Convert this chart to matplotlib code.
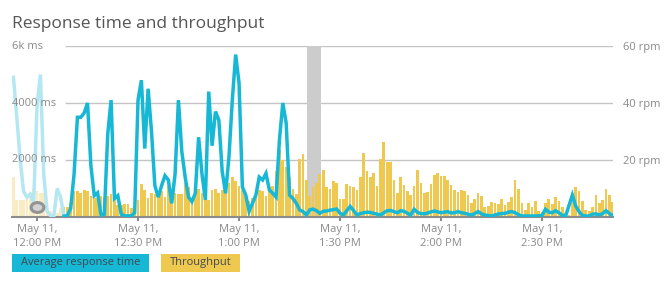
import matplotlib

matplotlib.use("Agg")
import matplotlib.pyplot as plt
import numpy as np
from matplotlib.patches import Rectangle
from matplotlib.path import Path
from matplotlib.transforms import Affine2D, blended_transform_factory

plt.rcParams["font.family"] = ["Open Sans", "DejaVu Sans"]

# minutes after May 11, 12:00 PM, one sample per minute
minutes = np.arange(-7, 172)

throughput_rpm = [
    14, 6, 6, 6, 7.7, 8.3, 10, 9, 8.3, 8.3, 5, 2, 1.3, 1.3, 3,
    3.6, 3.6, 5, 9, 9, 8.5, 9.5, 9, 7.5, 6.5, 6.5, 7.5, 7, 7.5, 8, 7.5,
    4.2, 4.2, 4.5, 4.5, 3, 2, 6, 11.5, 9.5, 6.5, 8.5, 8, 8.5, 9, 7, 11,
    6.5, 8.5, 8, 8, 11.8, 10.5, 6.5, 10, 10, 8.5, 7.5, 6, 9.5, 10, 8.5,
    9.5, 10, 12, 14, 12.5, 11, 9.5, 7, 5.5, 6.5, 8, 9.5, 9, 7.5, 10.5, 11,
    16, 23.5, 20, 17.5, 14, 10, 8, 20.5, 22, 13, 7.5, 10.5, 12, 15, 16.5, 10.5,
    10, 12.6, 11.8, 6.3, 6.3, 11.6, 10.9, 10.6, 9.5, 14,
    22.3, 16.3, 14, 15.3, 10.9, 20.2, 26.2, 19.2, 19.2, 13,
    8.5, 13.9, 11.2, 9.1, 7.7, 11, 16.5, 12, 8.5, 8.9,
    11.6, 14.7, 15.6, 14.4, 14.4, 13, 11.2, 9.5, 8.7, 9.5,
    9.2, 7.7, 5, 6.2, 8.5, 7.4, 3.6, 3.9, 5.4, 5,
    4.6, 6.3, 4.2, 5.4, 7.1, 13, 10, 4.8, 2.5, 4.8,
    3.4, 5.6, 2.2, 1.9, 5, 6.3, 4.6, 7.1, 5.7, 3.4,
    1.5, 0.7, 5.4, 10.6, 9.2, 5.7, 2.5, 2.1, 3.4, 7.7,
    5, 6, 9.8, 7.7, 5.4,
]

response_ms = [
    4900, 3500, 2000, 900, 700, 800, 500, 3900, 5000, 1500, 200, 50, 50, 1000, 700,
    30, 40, 300, 1500, 3500, 3500, 3650, 4000, 1800, 750, 850, 70, 100, 2900, 4100,
    650, 750, 100, 40, 40, 40, 150, 4100, 4800, 2400, 4500, 3000, 1100, 700, 1100,
    1450, 1300, 480, 1500, 4100, 2300, 1400, 700, 540, 830, 2800, 1500, 600, 4400,
    2500, 3700, 3400, 1600, 830, 2100, 4100, 5700, 4700, 1050, 770, 200, 480, 770,
    1400, 1300, 1530, 950, 830, 700, 2700, 4000, 3300, 770, 650, 480, 250, 190, 70,
    250,
    280, 220, 130, 200, 210, 240, 260, 280, 130, 70, 220, 370, 230, 70, 120, 150,
    170, 160, 130, 100, 70, 150, 220, 230, 190, 150, 220, 200, 130, 70,
    270, 160, 120, 110, 140, 180, 210, 180, 150, 170,
    190, 140, 150, 190, 150, 130, 100, 70, 120, 190,
    110, 70, 50, 35, 70, 105, 120, 130, 170, 190,
    150, 80, 35, 35, 35, 35, 35, 40, 60, 270,
    170, 150, 220, 150, 60, 35, 400, 770, 380, 190,
    50, 35, 35, 100, 110, 70, 120, 220, 120, 50,
]

fade_until = 8          # samples before this minute are outside the window
highlight = (80.2, 84.3)
event_minute, event_ms = 0, 360

tick_minutes = [0, 30, 60, 90, 120, 150]
tick_labels = ["May 11,\n12:00 PM", "May 11,\n12:30 PM", "May 11,\n1:00 PM",
               "May 11,\n1:30 PM", "May 11,\n2:00 PM", "May 11,\n2:30 PM"]
rpm_ticks = [20, 40, 60]
rpm_labels = ["20 rpm", "40 rpm", "60 rpm"]
ms_ticks = [2000, 4000, 6000]
ms_labels = ["2000 ms", "4000 ms", "6k ms"]

BLUE = "#17b7d6"
YELLOW = "#efc84f"
LABEL = "#8a8a8a"

thr = np.asarray(throughput_rpm, dtype=float)
rsp = np.asarray(response_ms, dtype=float)
faded = minutes < fade_until

W, H = 671, 284
fig = plt.figure(figsize=(W / 100, H / 100), dpi=100)
ax = fig.add_axes([12 / W, (H - 217) / H, (613 - 12) / W, (217 - 46) / H])
ax_ms = ax.twinx()

xlim = (-7.43, 171.07)
ax.set_xlim(*xlim)
ax.set_ylim(0, 60)
ax_ms.set_ylim(0, 6000)

# grid starts where the faded part ends
ax.hlines(rpm_ticks, fade_until + 0.3, xlim[1], color="#c4c4c4", lw=1, zorder=1)
ax.axvspan(*highlight, ymax=1, color="#cccccc", lw=0, zorder=1.5)

ax.bar(minutes[~faded], thr[~faded], width=0.8, color=YELLOW, lw=0, zorder=2)
ax.bar(minutes[faded], thr[faded], width=0.8, color="#faecc2", lw=0, zorder=2)

ax_ms.plot(minutes[minutes <= fade_until], rsp[minutes <= fade_until],
           color="#b5e7f2", lw=2.5, solid_joinstyle="miter", zorder=3)
ax_ms.plot(minutes[minutes >= fade_until], rsp[minutes >= fade_until],
           color=BLUE, lw=2.5, solid_joinstyle="miter", zorder=3)

oval = Path.unit_circle().transformed(Affine2D().scale(1.3, 1.0))
ax_ms.scatter([event_minute], [event_ms], marker=oval, s=85, facecolor="#d2d2d2",
              edgecolor="#939393", linewidth=2.2, zorder=4)

for a in (ax, ax_ms):
    for side in ("top", "left", "right", "bottom"):
        a.spines[side].set_visible(False)
ax.spines["bottom"].set_visible(True)
ax.spines["bottom"].set_color("#8c8c8c")
ax.spines["bottom"].set_linewidth(1.5)
ax.spines["bottom"].set_zorder(5)

ax.set_xticks(tick_minutes, tick_labels)
ax.tick_params(axis="x", length=3, width=1.5, color="#8c8c8c", pad=2,
               labelsize=8, labelcolor=LABEL)
for lab in ax.get_xticklabels():
    lab.set_linespacing(1.35)

ax.yaxis.tick_right()
ax.set_yticks(rpm_ticks, rpm_labels)
ax.tick_params(axis="y", length=0, pad=7, labelsize=8, labelcolor=LABEL)
ax_ms.set_yticks([])

trans = blended_transform_factory(ax_ms.transAxes, ax_ms.transData)
for v, lab in zip(ms_ticks, ms_labels):
    ax_ms.text(0, v, lab, transform=trans, ha="left", va="center",
               fontsize=8, color=LABEL, zorder=6)

fig.text(12 / W, 1 - 28 / H, "Response time and throughput", fontsize=12.5,
         color="#555555", ha="left", va="baseline")

legend = [("Average response time", BLUE, 12, 136.5), ("Throughput", YELLOW, 161, 78.5)]
for text, col, x0, w in legend:
    fig.add_artist(Rectangle((x0 / W, 1 - 271.5 / H), w / W, 17.5 / H,
                             transform=fig.transFigure, color=col, lw=0))
    fig.text((x0 + w / 2) / W, 1 - 263 / H, text, fontsize=8, color="#3e4a52",
             ha="center", va="center")

fig.savefig("out.png", dpi=100)
